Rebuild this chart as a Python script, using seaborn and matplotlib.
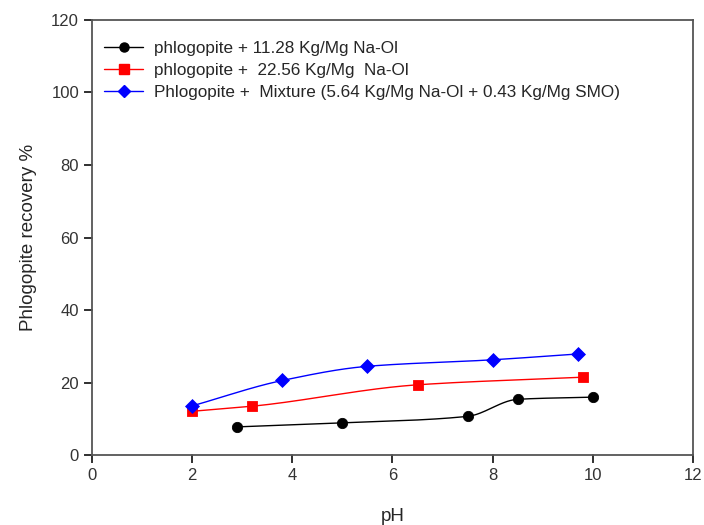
import matplotlib
matplotlib.use('Agg')
import matplotlib.pyplot as plt
import numpy as np
import pandas as pd
import seaborn as sns

# Data
ph_black = [2.9, 5.0, 7.5, 8.5, 10.0]
rec_black = [7.8, 8.9, 10.7, 15.4, 16.0]
ph_red = [2.0, 3.2, 6.5, 9.8]
rec_red = [12.1, 13.5, 19.4, 21.5]
ph_blue = [2.0, 3.8, 5.5, 8.0, 9.7]
rec_blue = [13.6, 20.6, 24.5, 26.3, 27.9]

labels = ['phlogopite + 11.28 Kg/Mg Na-Ol',
          'phlogopite +  22.56 Kg/Mg  Na-Ol',
          'Phlogopite +  Mixture (5.64 Kg/Mg Na-Ol + 0.43 Kg/Mg SMO)']
colors = ['black', 'red', 'blue']
markers = ['o', 's', 'D']


def smooth(x, y, n=200):
    # monotone cubic (pchip-like) curve through the points, for the drawn line only
    x = np.asarray(x, float)
    y = np.asarray(y, float)
    h = np.diff(x)
    d = np.diff(y) / h
    m = np.zeros_like(y)
    for i in range(1, len(x) - 1):
        if d[i - 1] * d[i] > 0:
            w1 = 2 * h[i] + h[i - 1]
            w2 = h[i] + 2 * h[i - 1]
            m[i] = (w1 + w2) / (w1 / d[i - 1] + w2 / d[i])
    m[0] = d[0]
    m[-1] = d[-1]
    xs = np.linspace(x[0], x[-1], n)
    idx = np.clip(np.searchsorted(x, xs) - 1, 0, len(x) - 2)
    t = (xs - x[idx]) / h[idx]
    h00 = 2 * t**3 - 3 * t**2 + 1
    h10 = t**3 - 2 * t**2 + t
    h01 = -2 * t**3 + 3 * t**2
    h11 = t**3 - t**2
    ys = h00 * y[idx] + h10 * h[idx] * m[idx] + h01 * y[idx + 1] + h11 * h[idx] * m[idx + 1]
    return xs, ys


sns.set_style('ticks')
plt.rcParams['font.family'] = ['Liberation Sans', 'DejaVu Sans']

fig, ax = plt.subplots(figsize=(7.04, 5.25), dpi=100)
fig.subplots_adjust(left=0.131, right=0.984, top=0.962, bottom=0.133)

series = [(ph_black, rec_black), (ph_red, rec_red), (ph_blue, rec_blue)]
for (xv, yv), lab, c, mk in zip(series, labels, colors, markers):
    xs, ys = smooth(xv, yv)
    sns.lineplot(x=xs, y=ys, ax=ax, color=c, lw=1.0, legend=False)
    sns.scatterplot(x=xv, y=yv, ax=ax, color=c, marker=mk, s=55 if mk != 'D' else 50,
                    edgecolor=c, zorder=3, legend=False)
    ax.plot([], [], color=c, marker=mk, ms=6.5 if mk != 'D' else 6, lw=1.0, label=lab)

ax.set_xlim(0, 12)
ax.set_ylim(0, 120)
ax.set_xticks(range(0, 13, 2))
ax.set_yticks(range(0, 121, 20))
for s in ax.spines.values():
    s.set_color('#555555')
    s.set_linewidth(1.3)
ax.tick_params(direction='out', length=6, width=1.3, color='#333333',
               labelsize=12, labelcolor='#333333')

# outward tick marks drawn explicitly at the axis tick positions
xtr = ax.get_xaxis_transform()
ytr = ax.get_yaxis_transform()
for xt in ax.get_xticks():
    ax.plot([xt, xt], [0, -0.016], transform=xtr, color='#333333', lw=1.3, clip_on=False)
for yt in ax.get_yticks():
    ax.plot([0, -0.0117], [yt, yt], transform=ytr, color='#333333', lw=1.3, clip_on=False)

ax.set_xlabel('pH', fontsize=13.5, labelpad=18)
ax.set_ylabel('Phlogopite recovery %', fontsize=13.5, labelpad=10)

ax.legend(loc='upper left', frameon=False, fontsize=12.3, handlelength=2.3,
          borderaxespad=0.3, labelspacing=0.42, handletextpad=0.6,
          bbox_to_anchor=(0.0, 0.98))

fig.savefig('out.png', dpi=100)
